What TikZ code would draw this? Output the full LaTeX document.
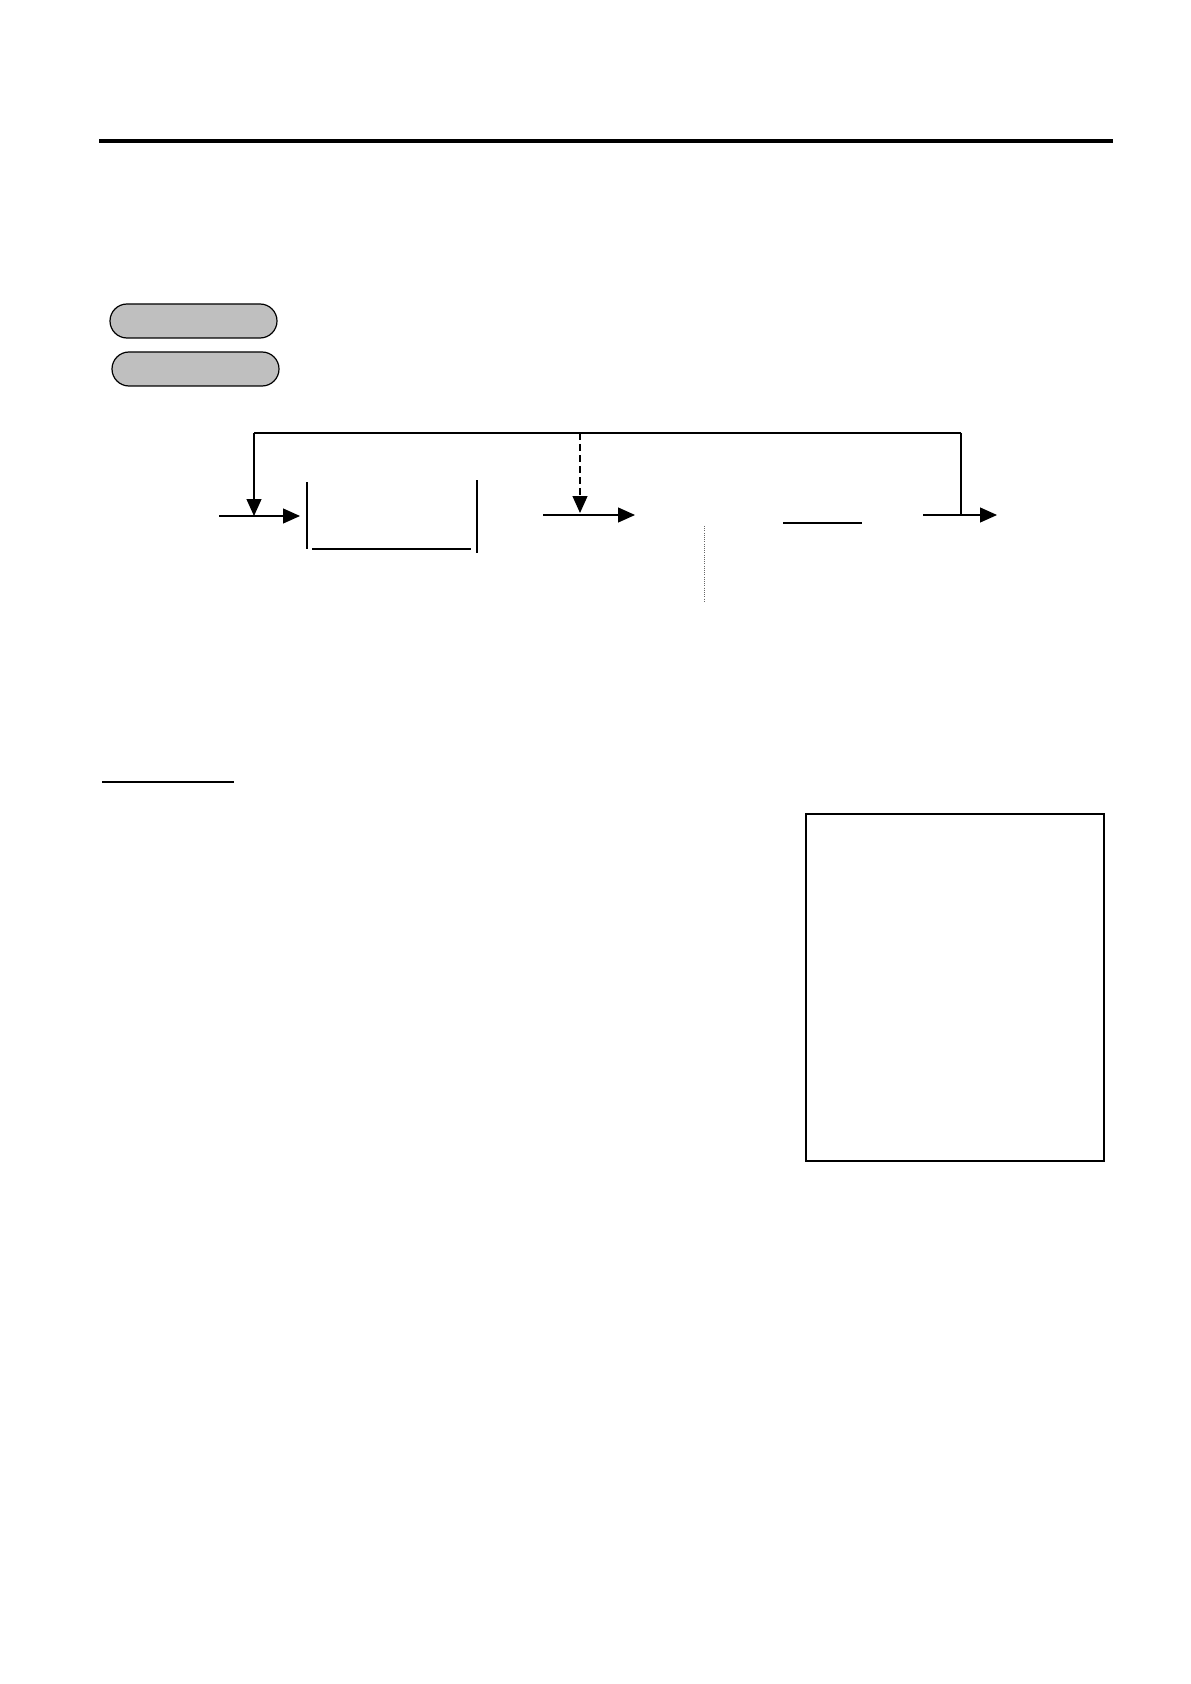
\documentclass[tikz,border=0pt]{standalone}
\usetikzlibrary{arrows.meta,shapes.misc}
\tikzset{
  pill/.style={rounded rectangle,draw,fill=black!25,line width=0.6pt,
    minimum width=83.5pt,minimum height=17pt,inner sep=0pt},
  flow/.style={line width=0.6pt,-{Triangle[length=8.5pt,width=7.5pt]}},
  bar/.style={line width=1.1pt},
}
\begin{document}
\begin{tikzpicture}[x=0.5pt,y=-0.5pt]
\useasboundingbox (0,0) rectangle (1190,1684);
% heading rule
\coordinate (rulel) at (99,141);
\coordinate (ruler) at (1113,141);
\draw[line width=2pt] (rulel) -- (ruler);
% keys
\node[pill] (keya) at (193.5,321) {};
\node[pill] (keyb) at (195.5,369) {};
% loop back
\coordinate (ltop) at (254,433);
\coordinate (mtop) at (580,433);
\coordinate (rtop) at (961,433);
\coordinate (ljoin) at (254,516);
\coordinate (mjoin) at (580,513);
\coordinate (rjoin) at (961,515);
\draw[line width=1pt] (ltop) -- (rtop);
\draw[flow] (ltop) -- (ljoin);
\draw[flow,dash pattern=on 3.5pt off 2pt] (mtop) -- (mjoin);
\draw[line width=1pt] (rtop) -- (rjoin);
% entry
\coordinate (in) at (219,516);
\coordinate (boxin) at (300,516);
\draw[flow] (in) -- (boxin);
% tray
\coordinate (trayl) at (307,482);
\coordinate (traylb) at (307,549);
\coordinate (trayb) at (312,549);
\coordinate (traybr) at (471,549);
\coordinate (trayr) at (477,480);
\coordinate (trayrb) at (477,553);
\draw[bar] (trayl) -- (traylb);
\draw[bar] (trayb) -- (traybr);
\draw[bar] (trayr) -- (trayrb);
% middle
\coordinate (midin) at (543,515);
\coordinate (midout) at (635,515);
\draw[flow] (midin) -- (midout);
\coordinate (sept) at (704,526);
\coordinate (sepb) at (704,602);
\draw[black!60,line width=0.5pt,dash pattern=on 0.5pt off 0.6pt] (sept) -- (sepb);
\coordinate (barl) at (783,523);
\coordinate (barr) at (862,523);
\draw[line width=1.1pt] (barl) -- (barr);
% exit
\coordinate (outin) at (923,515);
\coordinate (outend) at (997,515);
\draw[flow] (outin) -- (outend);
% lower part
\coordinate (ulinel) at (102,782);
\coordinate (uliner) at (234,782);
\draw[line width=1pt] (ulinel) -- (uliner);
\node[draw,line width=1.2pt,minimum width=149pt,minimum height=173.5pt,inner sep=0pt]
  (panel) at (955,987.5) {};
\end{tikzpicture}
\end{document}
